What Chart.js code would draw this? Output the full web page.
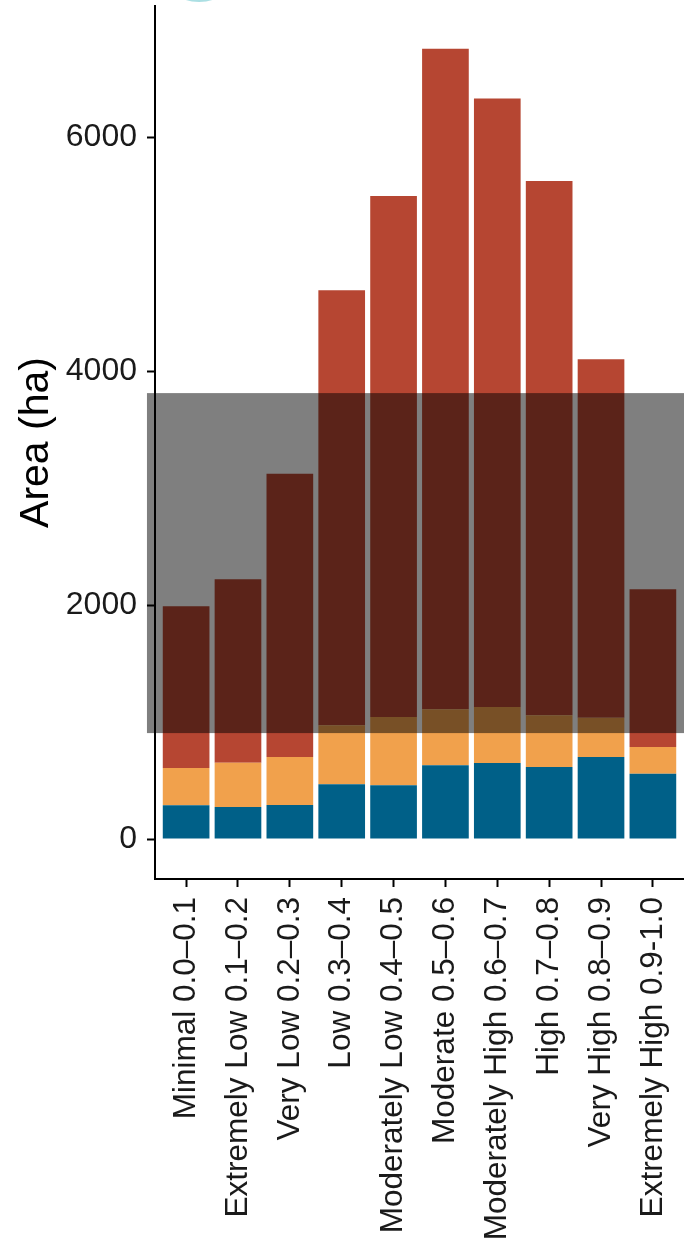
<!DOCTYPE html>
<html>
<head>
<meta charset="utf-8">
<title>Area (ha)</title>
<script src="https://cdn.jsdelivr.net/npm/chart.js@4/dist/chart.umd.min.js"></script>
<style>
  html, body { margin: 0; padding: 0; background: #fff; }
  #wrap { position: relative; width: 684px; height: 1245px; }
</style>
</head>
<body>
<div id="wrap"><canvas id="areaChart"></canvas></div>
<script>
// categories (x axis)
const categories = [
  'Minimal 0.0\u20130.1',
  'Extremely Low 0.1\u20130.2',
  'Very Low 0.2\u20130.3',
  'Low 0.3\u20130.4',
  'Moderately Low 0.4\u20130.5',
  'Moderate 0.5\u20130.6',
  'Moderately High 0.6\u20130.7',
  'High 0.7\u20130.8',
  'Very High 0.8\u20130.9',
  'Extremely High 0.9-1.0'
];

// stacked series, bottom to top (ha)
const blueValues   = [288, 274, 291, 468, 460, 630, 650, 616, 701, 559];
const orangeValues = [319, 379, 410, 504, 583, 479, 479, 442, 337, 228];
const redValues    = [1383, 1568, 2424, 3721, 4457, 5651, 5204, 4570, 3065, 1349];

// y ticks and range
const yTicks = [0, 2000, 4000, 6000];
const yRange = [-342, 7125];

// grey band laid over the plot (ha)
const bandRange = [906, 3814];

const FONT = '"Liberation Sans", Arial, Helvetica, sans-serif';

const COLORS = {
  blue: 'rgb(0, 96, 136)',
  orange: 'rgb(241, 161, 76)',
  red: 'rgb(182, 70, 50)'
};

function toPoints(values) {
  return values.map((v, i) => ({ x: i + 1, y: v }));
}

// semi-transparent band + the clipped teal shape at the top
const overlayPlugin = {
  id: 'overlay',
  afterDraw(chart) {
    const ctx = chart.ctx;
    const xs = chart.scales.x;
    const ys = chart.scales.y;
    const x0 = xs.getPixelForValue(0.245);
    const yTop = ys.getPixelForValue(bandRange[1]);
    const yBot = ys.getPixelForValue(bandRange[0]);
    ctx.save();
    ctx.fillStyle = 'rgba(0, 0, 0, 0.5)';
    ctx.fillRect(x0, yTop, chart.width - x0, yBot - yTop);

    ctx.beginPath();
    ctx.ellipse(xs.getPixelForValue(1.25), -6, 20, 8, 0, 0, Math.PI * 2);
    ctx.fillStyle = 'rgba(150, 215, 220, 0.8)';
    ctx.fill();
    ctx.restore();
  }
};

function noScalePadding(scale) {
  scale.paddingTop = 0;
  scale.paddingBottom = 0;
  scale.paddingLeft = 0;
  scale.paddingRight = 0;
}

new Chart(document.getElementById('areaChart'), {
  type: 'bar',
  data: {
    datasets: [
      { label: 'blue', data: toPoints(blueValues), backgroundColor: COLORS.blue },
      { label: 'orange', data: toPoints(orangeValues), backgroundColor: COLORS.orange },
      { label: 'red', data: toPoints(redValues), backgroundColor: COLORS.red }
    ]
  },
  options: {
    responsive: true,
    maintainAspectRatio: false,
    animation: false,
    barPercentage: 0.9,
    categoryPercentage: 1.0,
    layout: { padding: { top: 6, right: 0, left: 0, bottom: 0 } },
    plugins: {
      legend: { display: false },
      tooltip: { enabled: false }
    },
    scales: {
      x: {
        type: 'linear',
        stacked: true,
        offset: false,
        min: 0.4,
        max: 10.6,
        afterBuildTicks(scale) {
          scale.ticks = categories.map((c, i) => ({ value: i + 1 }));
        },
        afterFit(scale) {
          scale.height = 366;
          noScalePadding(scale);
        },
        grid: {
          display: true,
          offset: false,
          drawOnChartArea: false,
          drawTicks: true,
          tickLength: 8,
          tickColor: '#000',
          tickWidth: 2
        },
        border: { display: true, color: '#000', width: 2 },
        ticks: {
          autoSkip: false,
          minRotation: 90,
          maxRotation: 90,
          padding: 10,
          color: '#1a1a1a',
          font: { family: FONT, size: 31.5 },
          callback: (value) => categories[Math.round(value) - 1] || ''
        }
      },
      y: {
        stacked: true,
        min: yRange[0],
        max: yRange[1],
        afterBuildTicks(scale) {
          scale.ticks = yTicks.map(v => ({ value: v }));
        },
        afterFit(scale) {
          scale.width = 155;
          noScalePadding(scale);
        },
        grid: {
          display: true,
          drawOnChartArea: false,
          drawTicks: true,
          tickLength: 8,
          tickColor: '#000',
          tickWidth: 2
        },
        border: { display: true, color: '#000', width: 2 },
        ticks: {
          padding: 10,
          color: '#1a1a1a',
          font: { family: FONT, size: 32 },
          callback: (value) => String(value)
        },
        title: {
          display: true,
          text: 'Area (ha)',
          color: '#000',
          font: { family: FONT, size: 41 },
          padding: { top: 12, bottom: 0 }
        }
      }
    }
  },
  plugins: [overlayPlugin]
});
</script>
</body>
</html>
